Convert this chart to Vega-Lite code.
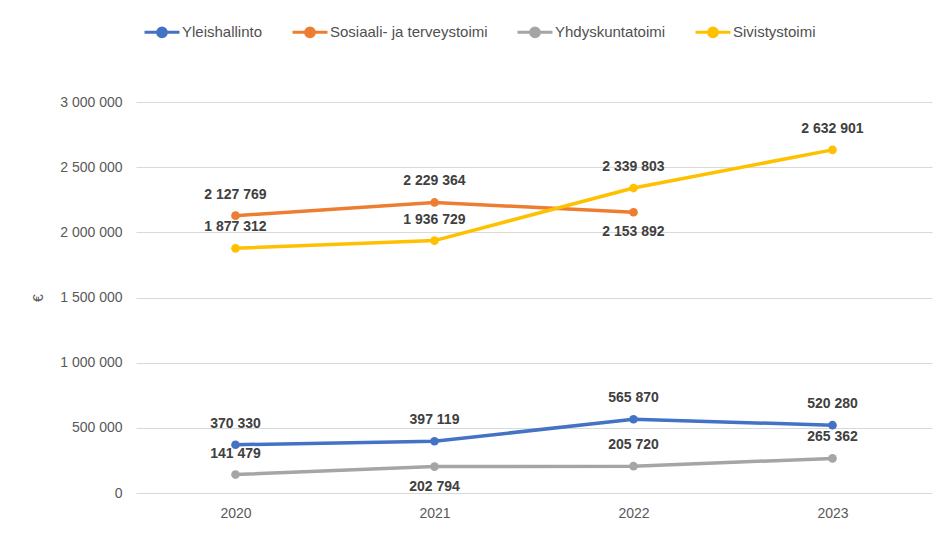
{
  "$schema": "https://vega.github.io/schema/vega-lite/v6.json",
  "width": 796,
  "height": 391,
  "autosize": "none",
  "padding": {"left": 136, "top": 102, "right": 6, "bottom": 60},
  "background": "white",
  "config": {
    "font": "Liberation Sans",
    "locale": {"number": {"decimal": ",", "thousands": " ", "grouping": [3], "currency": ["", " €"]}},
    "view": {"stroke": null},
    "axis": {"labelFont": "Liberation Sans", "labelFontSize": 14, "labelColor": "#595959", "gridColor": "#D9D9D9", "gridWidth": 1, "tickSize": 0}
  },
  "data": {
    "values": [
      {"year": "2020", "series": "Yleishallinto", "value": 370330},
      {"year": "2021", "series": "Yleishallinto", "value": 397119},
      {"year": "2022", "series": "Yleishallinto", "value": 565870},
      {"year": "2023", "series": "Yleishallinto", "value": 520280},
      {"year": "2020", "series": "Sosiaali- ja terveystoimi", "value": 2127769},
      {"year": "2021", "series": "Sosiaali- ja terveystoimi", "value": 2229364},
      {"year": "2022", "series": "Sosiaali- ja terveystoimi", "value": 2153892},
      {"year": "2020", "series": "Yhdyskuntatoimi", "value": 141479},
      {"year": "2021", "series": "Yhdyskuntatoimi", "value": 202794},
      {"year": "2022", "series": "Yhdyskuntatoimi", "value": 205720},
      {"year": "2023", "series": "Yhdyskuntatoimi", "value": 265362},
      {"year": "2020", "series": "Sivistystoimi", "value": 1877312},
      {"year": "2021", "series": "Sivistystoimi", "value": 1936729},
      {"year": "2022", "series": "Sivistystoimi", "value": 2339803},
      {"year": "2023", "series": "Sivistystoimi", "value": 2632901}
    ]
  },
  "encoding": {
    "x": {
      "field": "year", "type": "ordinal", "title": null,
      "scale": {"type": "point", "padding": 0.5},
      "axis": {"labelAngle": 0, "domain": false, "ticks": false, "grid": false, "labelPadding": 13}
    },
    "y": {
      "field": "value", "type": "quantitative",
      "scale": {"domain": [0, 3000000], "nice": false},
      "axis": {"values": [0, 500000, 1000000, 1500000, 2000000, 2500000, 3000000], "labelExpr": "format(datum.value, ',')", "domain": false, "ticks": false, "labelPadding": 14, "title": "€", "titleFontSize": 14, "titleFontWeight": "normal", "titleColor": "#595959", "titlePadding": 14}
    },
    "color": {
      "field": "series", "type": "nominal",
      "scale": {"domain": ["Yleishallinto", "Sosiaali- ja terveystoimi", "Yhdyskuntatoimi", "Sivistystoimi"], "range": ["#4472C4", "#ED7D31", "#A5A5A5", "#FFC000"]},
      "legend": {
        "title": null, "orient": "none", "direction": "horizontal", "legendX": 7, "legendY": -89,
        "symbolType": "M-1,0H1M0.25,0A0.25,0.25,0,1,1,-0.25,0A0.25,0.25,0,1,1,0.25,0Z",
        "symbolSize": 1225, "symbolStrokeWidth": 3,
        "labelFontSize": 15, "labelColor": "#505050", "labelOffset": 1, "columnPadding": 23,
        "encode": {"symbols": {"update": {"fill": {"scale": "color", "field": "value"}, "stroke": {"scale": "color", "field": "value"}, "opacity": {"value": 1}, "fillOpacity": {"value": 1}}}}
      }
    }
  },
  "layer": [
    {"mark": {"type": "line", "strokeWidth": 3.5}},
    {"mark": {"type": "point", "filled": true, "size": 75, "opacity": 1}},
    {
      "transform": [{"filter": "!((datum.series == 'Sosiaali- ja terveystoimi' && datum.year == '2022') || (datum.series == 'Yhdyskuntatoimi' && datum.year == '2021'))"}],
      "mark": {"type": "text", "dy": -21, "baseline": "middle", "fontWeight": "bold", "fontSize": 14, "color": "#404040"},
      "encoding": {"text": {"field": "value", "type": "quantitative", "format": ","}, "color": {"value": "#404040"}}
    },
    {
      "transform": [{"filter": "(datum.series == 'Sosiaali- ja terveystoimi' && datum.year == '2022') || (datum.series == 'Yhdyskuntatoimi' && datum.year == '2021')"}],
      "mark": {"type": "text", "dy": 20, "baseline": "middle", "fontWeight": "bold", "fontSize": 14, "color": "#404040"},
      "encoding": {"text": {"field": "value", "type": "quantitative", "format": ","}, "color": {"value": "#404040"}}
    }
  ]
}
